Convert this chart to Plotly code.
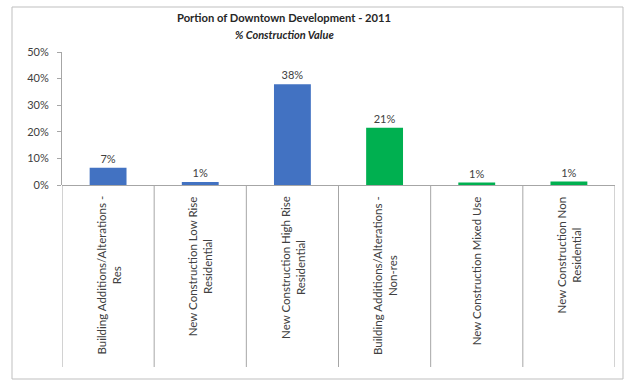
import plotly.graph_objects as go

categories = [
    "Building Additions/Alterations -<br>Res",
    "New Construction Low Rise<br>Residential",
    "New Construction High Rise<br>Residential",
    "Building Additions/Alterations -<br>Non-res",
    "New Construction Mixed Use",
    "New Construction Non<br>Residential",
]
values = [6.5, 1.1, 37.9, 21.5, 0.9, 1.3]
value_labels = ["7%", "1%", "38%", "21%", "1%", "1%"]
bar_colors = ["#4272C2", "#4272C2", "#4272C2", "#00B050", "#00B050", "#00B050"]
y_ticks = [0, 10, 20, 30, 40, 50]
y_tick_labels = ["0%", "10%", "20%", "30%", "40%", "50%"]
title_main = "Portion of Downtown Development - 2011"
title_sub = "% Construction Value"

W, H = 626, 381
L, R, T, B = 62, 11, 52, 196
pw, ph = W - L - R, H - T - B
y0px = H - B


def px_x(x):
    return (x - L) / pw


def px_y(y):
    return (y0px - y) / ph


FONT = "Lato, 'Open Sans', sans-serif"
GRAY = "#404040"
LINE = "#A6A6A6"

xs = list(range(len(categories)))
fig = go.Figure()
fig.add_trace(go.Bar(
    x=xs, y=values, width=0.4,
    marker=dict(color=bar_colors, line=dict(width=0)),
    text=value_labels, textposition="outside", cliponaxis=False,
    textfont=dict(family=FONT, size=11, color=GRAY),
    hoverinfo="skip",
))

shapes = [
    dict(type="rect", xref="paper", yref="paper",
         x0=px_x(12), x1=px_x(623), y0=px_y(379), y1=px_y(7),
         line=dict(color="#BFBFBF", width=1), fillcolor="rgba(0,0,0,0)", layer="below"),
]
for i in range(len(categories) + 1):
    shapes.append(dict(type="line", xref="x", yref="paper",
                       x0=i - 0.5, x1=i - 0.5, y0=0, y1=px_y(367),
                       line=dict(color=LINE, width=1)))

annotations = [
    dict(text="<b>" + title_main + "</b>", xref="paper", yref="paper",
         x=px_x(284), y=px_y(17), showarrow=False, xanchor="center", yanchor="middle",
         font=dict(family=FONT, size=11.2, color="#262626")),
    dict(text="<b><i>" + title_sub + "</i></b>", xref="paper", yref="paper",
         x=px_x(284), y=px_y(35), showarrow=False, xanchor="center", yanchor="middle",
         font=dict(family=FONT, size=11, color="#262626")),
]
for i, c in enumerate(categories):
    annotations.append(dict(text=c, xref="x", yref="paper", x=i, y=0, yshift=-9,
                            showarrow=False, textangle=-90, xanchor="center", yanchor="top",
                            align="center",
                            font=dict(family=FONT, size=11.5, color=GRAY)))

fig.update_layout(
    width=W, height=H,
    margin=dict(l=L, r=R, t=T, b=B, pad=0),
    paper_bgcolor="white", plot_bgcolor="white",
    showlegend=False,
    shapes=shapes, annotations=annotations,
    xaxis=dict(range=[-0.5, len(categories) - 0.5], showticklabels=False, ticks="",
               showgrid=False, zeroline=False, showline=False, fixedrange=True),
    yaxis=dict(range=[0, 50], tickvals=y_ticks, ticktext=y_tick_labels,
               ticks="outside", ticklen=4, tickcolor=LINE, showline=True, linecolor=LINE,
               linewidth=1, showgrid=False, zeroline=True, zerolinecolor=LINE, zerolinewidth=1,
               tickfont=dict(family=FONT, size=11, color=GRAY), ticklabelstandoff=6,
               fixedrange=True),
)

fig.write_html("out.html",
               config={"displayModeBar": False, "staticPlot": True},
               post_script="document.body.style.margin='0px';document.body.style.overflow='hidden';")
